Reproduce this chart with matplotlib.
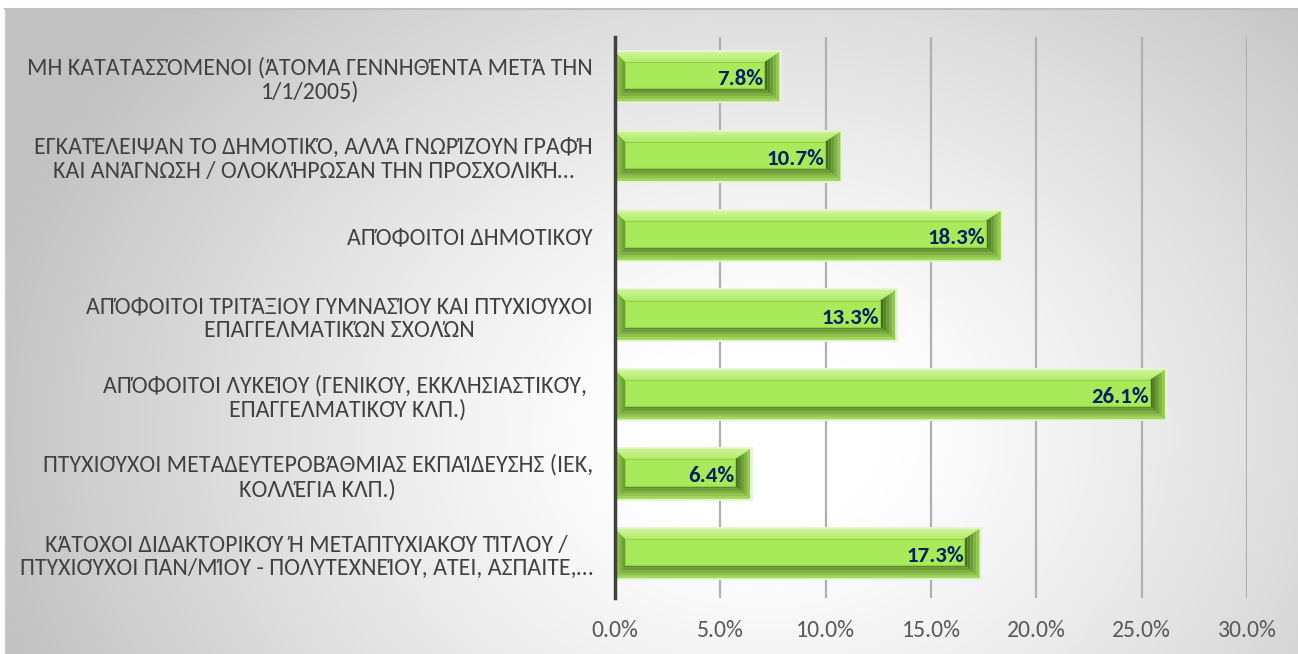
import numpy as np
import matplotlib.pyplot as plt
import matplotlib.transforms as mtransforms
from matplotlib.patches import Polygon
from matplotlib.colors import to_rgb

plt.rcParams['font.family'] = ['Carlito', 'DejaVu Sans']

categories = [
    'ΜΗ ΚΑΤΑΤΑΣΣΌΜΕΝΟΙ (ΆΤΟΜΑ ΓΕΝΝΗΘΈΝΤΑ ΜΕΤΆ ΤΗΝ\n1/1/2005)',
    'ΕΓΚΑΤΈΛΕΙΨΑΝ ΤΟ ΔΗΜΟΤΙΚΌ, ΑΛΛΆ ΓΝΩΡΊΖΟΥΝ ΓΡΑΦΉ\nΚΑΙ ΑΝΆΓΝΩΣΗ / ΟΛΟΚΛΉΡΩΣΑΝ ΤΗΝ ΠΡΟΣΧΟΛΙΚΉ…',
    'ΑΠΌΦΟΙΤΟΙ ΔΗΜΟΤΙΚΟΎ',
    'ΑΠΌΦΟΙΤΟΙ ΤΡΙΤΆΞΙΟΥ ΓΥΜΝΑΣΊΟΥ ΚΑΙ ΠΤΥΧΙΟΎΧΟΙ\nΕΠΑΓΓΕΛΜΑΤΙΚΏΝ ΣΧΟΛΏΝ',
    'ΑΠΌΦΟΙΤΟΙ ΛΥΚΕΊΟΥ (ΓΕΝΙΚΟΎ, ΕΚΚΛΗΣΙΑΣΤΙΚΟΎ, \nΕΠΑΓΓΕΛΜΑΤΙΚΟΎ ΚΛΠ.)',
    'ΠΤΥΧΙΟΎΧΟΙ ΜΕΤΑΔΕΥΤΕΡΟΒΆΘΜΙΑΣ ΕΚΠΑΊΔΕΥΣΗΣ (ΙΕΚ,\nΚΟΛΛΈΓΙΑ ΚΛΠ.)',
    'ΚΆΤΟΧΟΙ ΔΙΔΑΚΤΟΡΙΚΟΎ Ή ΜΕΤΑΠΤΥΧΙΑΚΟΎ ΤΊΤΛΟΥ /\nΠΤΥΧΙΟΎΧΟΙ ΠΑΝ/ΜΊΟΥ - ΠΟΛΥΤΕΧΝΕΊΟΥ, ΑΤΕΙ, ΑΣΠΑΙΤΕ,…',
]
values = [7.8, 10.7, 18.3, 13.3, 26.1, 6.4, 17.3]
xticks = [0, 5, 10, 15, 20, 25, 30]

W, H = 1298, 654
fig = plt.figure(figsize=(W / 100, H / 100), dpi=100)
fig.patch.set_facecolor('white')

# background: radial gray-white gradient
bg = fig.add_axes([5 / W, 0, 1 - 5 / W, 1 - 9 / H])
bg.set_axis_off()
yy, xx = np.mgrid[0:H, 0:W]
t = np.sqrt(((xx - 760) / 800.0) ** 2 + ((yy - 430) / 650.0) ** 2)
g = 1 - 0.24 * np.clip((t - 0.15) / 0.85, 0, 1) ** 1.2
bg.imshow(np.dstack([g, g, g]), aspect='auto', extent=[0, 1, 0, 1], origin='upper')
fig.add_artist(plt.Line2D([5 / W, 1], [1 - 9 / H, 1 - 9 / H], color='#bfbfbf', lw=1.5))
fig.add_artist(plt.Line2D([5 / W, 5 / W], [0, 1 - 9 / H], color='#d0d0d0', lw=1))

ax = fig.add_axes([615 / W, 1 - 598 / H, 632 / W, 561 / H])
ax.patch.set_alpha(0)

y = np.arange(len(values))
bars = ax.barh(y, values, height=0.62, color='#a9e95b', zorder=3)
ax.set_xlim(0, 30)
ax.set_ylim(len(values) - 0.44, -0.5)

ux = 30 / 632.0   # data per pixel x
uy = 1 / 79.0     # data per pixel y


def band(ax, outer, inner, c0, c1, n=5):
    # trapezoid bevel drawn as bands from outer edge (c0) to inner edge (c1)
    outer = np.array(outer)
    inner = np.array(inner)
    c0 = np.array(to_rgb(c0))
    c1 = np.array(to_rgb(c1))
    for k in range(n):
        p0 = outer + (inner - outer) * (k / n)
        p1 = outer + (inner - outer) * ((k + 1) / n)
        col = c0 + (c1 - c0) * (k + 0.5) / n
        ax.add_patch(Polygon([p0[0], p0[1], p1[1], p1[0]], closed=True,
                             facecolor=col, edgecolor='none', zorder=4))


for rect in bars:
    x0 = rect.get_x()
    x1 = x0 + rect.get_width()
    yt = rect.get_y()            # top edge (inverted axis)
    yb = yt + rect.get_height()
    lx, rx = 10 * ux, 15 * ux
    ty, by = 10 * uy, 13 * uy
    ix0, ix1 = x0 + lx, x1 - rx
    iy0, iy1 = yt + ty, yb - by
    # glow around bar
    ax.add_patch(Polygon([(x0, yt - 2 * uy), (x1 + 3 * ux, yt - 2 * uy), (x1 + 3 * ux, yb + 2 * uy), (x0, yb + 2 * uy)],
                         closed=True, facecolor='#e6f4d4', edgecolor='none', zorder=2))
    band(ax, [(x0, yt), (x1, yt)], [(ix0, iy0), (ix1, iy0)], '#d2f5a0', '#b0ec68')   # top
    band(ax, [(x0, yt), (x0, yb)], [(ix0, iy0), (ix0, iy1)], '#a0d85a', '#66962f')   # left
    band(ax, [(x0, yb), (x1, yb)], [(ix0, iy1), (ix1, iy1)], '#a8e262', '#557c26')   # bottom
    band(ax, [(x1, yt), (x1, yb)], [(ix1, iy0), (ix1, iy1)], '#a0d45c', '#386216')   # right
    ax.add_patch(Polygon([(ix0, iy0), (ix1, iy0), (ix1, iy1), (ix0, iy1)], closed=True,
                         facecolor='#a9ea5b', edgecolor='#92d04a', lw=0.8, zorder=4))

for yi, v in zip(y, values):
    ax.text(v - 0.74, yi + 0.03, f'{v:.1f}%', ha='right', va='center', fontsize=16.5,
            fontweight='bold', color='#002060', zorder=6)

ax.set_yticks(y)
ax.set_yticklabels(categories, fontsize=17.2, color='#404040', linespacing=1.15)
shift = mtransforms.ScaledTranslation(0, 3 / 100, fig.dpi_scale_trans)
for lab in ax.get_yticklabels():
    lab.set_multialignment('center')
    lab.set_transform(lab.get_transform() + shift)
ax.set_xticks(xticks)
ax.set_xticklabels([f'{v:.1f}%' for v in xticks], fontsize=17, color='#595959')
ax.tick_params(axis='both', length=0)
ax.tick_params(axis='y', pad=16)
ax.tick_params(axis='x', pad=16)

ax.xaxis.grid(True, color='#b0b0b0', lw=1.6, zorder=1)
ax.set_axisbelow(True)
for s in ['top', 'right', 'bottom']:
    ax.spines[s].set_visible(False)
ax.spines['left'].set_color('#404040')
ax.spines['left'].set_linewidth(2.5)
ax.spines['left'].set_zorder(7)

fig.savefig('out.png', dpi=100)
